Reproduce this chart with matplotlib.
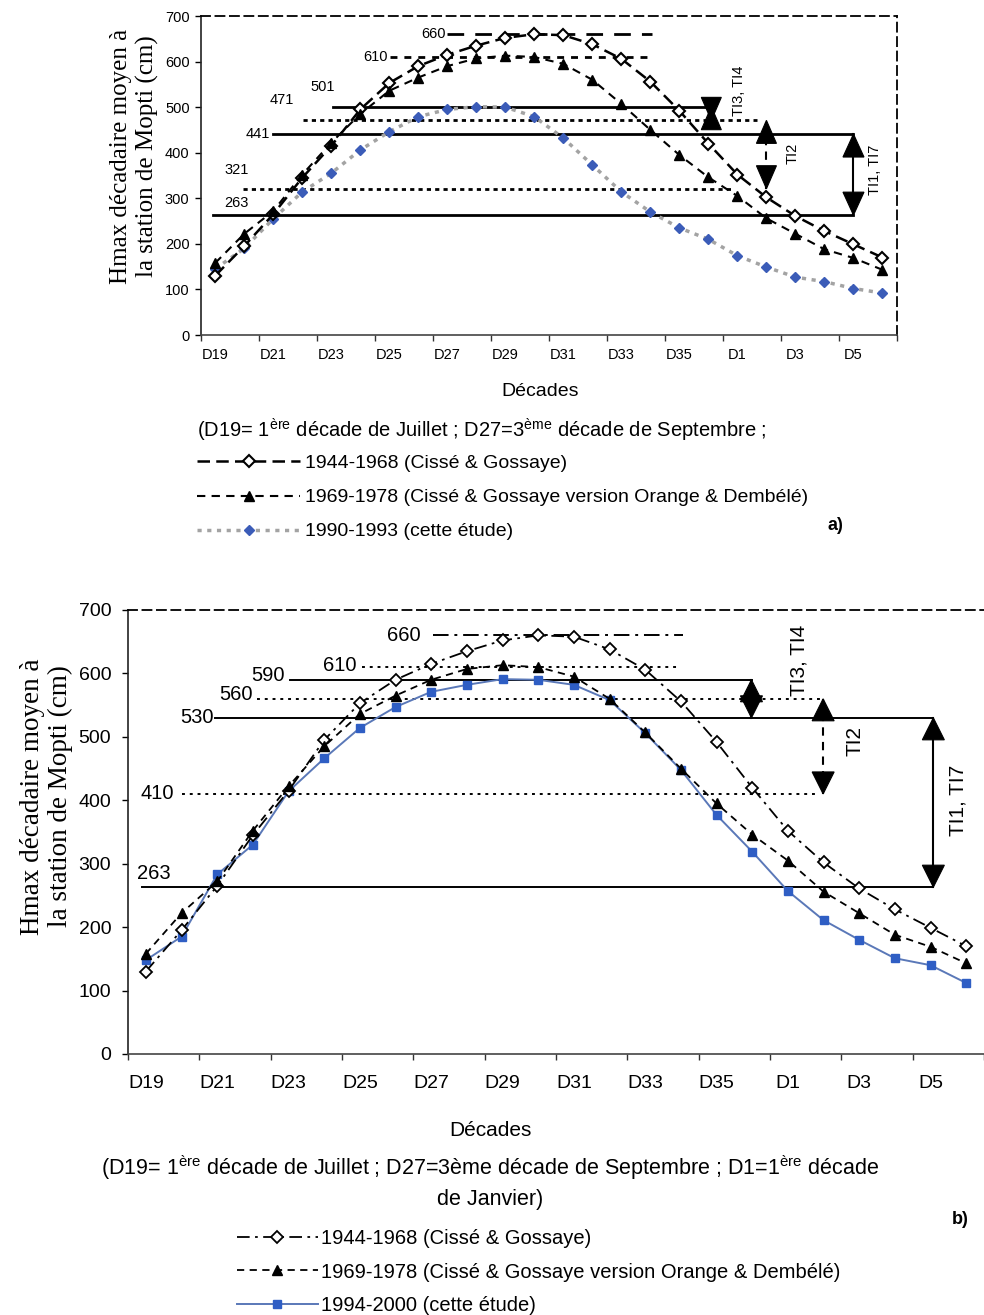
import numpy as np
import matplotlib
matplotlib.use("Agg")
import matplotlib.pyplot as plt
from matplotlib.patches import Polygon
from matplotlib.transforms import IdentityTransform

W, H, DPI = 984, 1315, 100

plt.rcParams["font.family"] = ["Liberation Sans", "DejaVu Sans"]
plt.rcParams["mathtext.fontset"] = "custom"
plt.rcParams["mathtext.rm"] = "Liberation Sans"
plt.rcParams["mathtext.it"] = "Liberation Sans"

SANS = ["Liberation Sans", "DejaVu Sans"]
SERIF = ["Liberation Serif", "DejaVu Serif"]

# ---- data -------------------------------------------------------------
decades = ["D19", "D20", "D21", "D22", "D23", "D24", "D25", "D26", "D27",
           "D28", "D29", "D30", "D31", "D32", "D33", "D34", "D35", "D36",
           "D1", "D2", "D3", "D4", "D5", "D6"]
tick_labels = decades[::2]

h_1944_1968 = [130, 195, 265, 345, 415, 495, 553, 590, 615, 635, 652, 660,
               658, 638, 606, 556, 492, 420, 352, 302, 261, 228, 199, 170]
h_1969_1978 = [158, 222, 272, 352, 422, 485, 536, 565, 590, 607, 613, 610,
               595, 560, 507, 450, 395, 346, 305, 256, 222, 188, 169, 143]
h_1990_1993 = [145, 190, 255, 314, 355, 406, 446, 479, 495, 501, 500, 479,
               432, 373, 314, 270, 235, 210, 174, 149, 127, 117, 102, 92]
h_1994_2000 = [148, 185, 283, 330, 414, 466, 514, 547, 571, 582, 591, 590,
               582, 558, 506, 448, 377, 319, 257, 211, 180, 151, 140, 112]

# threshold levels (cm) of each panel
levels_a = [660, 610, 501, 471, 441, 321, 263]
levels_b = [660, 610, 590, 560, 530, 410, 263]

label_1 = "1944-1968 (Cissé & Gossaye)"
label_2 = "1969-1978 (Cissé & Gossaye version Orange & Dembélé)"
label_3a = "1990-1993 (cette étude)"
label_3b = "1994-2000 (cette étude)"

# ---- layout helpers -----------------------------------------------------
def px_rect(x0, y0, x1, y1):
    return [x0 / W, 1 - y1 / H, (x1 - x0) / W, (y1 - y0) / H]

def fx(x):
    return x / W

def fy(y):
    return 1 - y / H

fig = plt.figure(figsize=(W / DPI, H / DPI), dpi=DPI)
fig.patch.set_facecolor("white")

ax_a = fig.add_axes(px_rect(200.7, 16, 897, 335))
ax_b = fig.add_axes(px_rect(128, 610, 984, 1054))

x = np.arange(len(decades))


def setup_axes(ax, tick_fs, xpad, ypad, right_border):
    ax.set_xlim(-0.5, len(decades) - 0.5)
    ax.set_ylim(0, 700)
    ax.set_yticks(np.arange(0, 701, 100))
    ax.set_xticks(x[::2])
    ax.set_xticklabels(tick_labels, family=SANS, fontsize=tick_fs)
    for t in ax.get_yticklabels():
        t.set_fontsize(tick_fs)
    ax.set_xticks(np.arange(-0.5, len(decades), 2), minor=True)
    ax.tick_params(axis="x", which="major", length=0, pad=xpad)
    ax.tick_params(axis="x", which="minor", length=4, direction="out",
                   width=1, color="#333333")
    ax.tick_params(axis="y", length=4, direction="out", width=1, pad=ypad)
    ax.spines["left"].set_color("#222222")
    ax.spines["left"].set_linewidth(1.2)
    ax.spines["bottom"].set_color("#444444")
    ax.spines["bottom"].set_linewidth(1.2)
    ax.spines["top"].set_linestyle((0, (5, 3)))
    ax.spines["top"].set_linewidth(1.3)
    if right_border:
        ax.spines["right"].set_linestyle((0, (5, 3)))
        ax.spines["right"].set_linewidth(1.3)
    else:
        ax.spines["right"].set_visible(False)
    ax.set_facecolor("white")


def arrow_head(ax, xpos, ytip, pointing_up, length, width):
    tx, ty = ax.transData.transform((xpos, ytip))
    s = 1 if pointing_up else -1
    verts = [(tx, ty), (tx - width / 2, ty - s * length),
             (tx + width / 2, ty - s * length)]
    ax.add_artist(Polygon(verts, closed=True, transform=IdentityTransform(),
                          facecolor="black", edgecolor="black", lw=0.8,
                          zorder=6, clip_on=False))


def double_arrow(ax, xpos, y_low, y_high, length, width, dashed=False,
                 lw=1.5):
    ax.plot([xpos, xpos], [y_low, y_high], color="black", lw=lw,
            ls=(0, (4, 3)) if dashed else "-", zorder=5)
    arrow_head(ax, xpos, y_high, True, length, width)
    arrow_head(ax, xpos, y_low, False, length, width)


# ---- panel a ------------------------------------------------------------
setup_axes(ax_a, 10.5, 9, 4, True)

l1a, = ax_a.plot(x, h_1944_1968, color="black", lw=1.8, ls=(0, (5, 2.5)),
                 marker="D", ms=6.5, mfc="white", mec="black", mew=1.5, zorder=4)
l2a, = ax_a.plot(x, h_1969_1978, color="black", lw=1.5, ls=(0, (4, 3)),
                 marker="^", ms=6.5, mfc="black", mec="black", zorder=4)
l3a, = ax_a.plot(x, h_1990_1993, color="#a3a3a3", lw=2.5, ls=(0, (1.2, 1.6)),
                 marker="D", ms=5.5, mfc="#3b5cb8", mec="#3b5cb8", zorder=3)

styles_a = [(0, (6, 4)), (0, (2.5, 2.5)), "-", (0, (1.5, 1.5)), "-",
            (0, (1.5, 1.5)), "-"]
extent_a = [(8.0, 15.07), (6.03, 15.07), (4.06, 17.06), (3.03, 18.68),
            (2.0, 22.0), (0.97, 17.86), (-0.07, 22.0)]
for lev, st, (x0, x1) in zip(levels_a, styles_a, extent_a):
    ax_a.plot([x0, x1], [lev, lev], color="black", lw=2.0, ls=st, zorder=2)

lab_a = [(7.93, 660, "right"), (5.96, 610, "right"), (3.72, 544, "center"),
         (2.3, 516, "center"), (1.9, 441, "right"), (0.75, 362, "center"),
         (0.72, 289, "center")]
for lev, (tx, ty, ha) in zip(levels_a, lab_a):
    ax_a.text(tx, ty, str(lev), ha=ha, va="center", fontsize=10.5)

fig.canvas.draw()
double_arrow(ax_a, 17.1, 471, 501, 23, 20)
double_arrow(ax_a, 19.0, 321, 471, 23, 20, dashed=True)
double_arrow(ax_a, 22.0, 263, 441, 23, 21)
ax_a.text(18.07, 535, "TI3, TI4", rotation=90, ha="center", va="center",
          fontsize=10.5)
ax_a.text(19.9, 399, "TI2", rotation=90, ha="center", va="center",
          fontsize=10.5)
ax_a.text(22.75, 362, "TI1, TI7", rotation=90, ha="center", va="center",
          fontsize=10.5)

ax_a.set_ylabel("Hmax décadaire moyen à\nla station de Mopti (cm)",
                family=SERIF, fontsize=18, linespacing=1.2)
ax_a.yaxis.set_label_coords(-0.095, 0.56)
ax_a.yaxis.label.set_va("center")

fig.text(fx(540), fy(392), "Décades", ha="center", va="center",
         fontsize=14)
fig.text(fx(197), fy(430),
         "(D19= 1$^{\\mathrm{ère}}$ décade de Juillet ; "
         "D27=3$^{\\mathrm{ème}}$ décade de Septembre ;",
         ha="left", va="center", fontsize=14.5)
fig.text(fx(835), fy(525), "a)", ha="center", va="center", fontsize=13,
         fontweight="bold")
fig.legend(handles=[l1a, l2a, l3a], labels=[label_1, label_2, label_3a],
           loc="center left", bbox_to_anchor=(fx(197), fy(497.5)),
           frameon=False, handlelength=5.3, handletextpad=0.25,
           labelspacing=0.85, borderpad=0, borderaxespad=0,
           prop={"family": SANS, "size": 14})

# ---- panel b ------------------------------------------------------------
setup_axes(ax_b, 14, 15, 8, False)

l1b, = ax_b.plot(x, h_1944_1968, color="black", lw=1.3, ls=(0, (7, 3, 1.5, 3)),
                 marker="D", ms=6.5, mfc="white", mec="black", mew=1.3, zorder=4)
l2b, = ax_b.plot(x, h_1969_1978, color="black", lw=1.3, ls=(0, (4, 3)),
                 marker="^", ms=6.5, mfc="black", mec="black", zorder=4)
l3b, = ax_b.plot(x, h_1994_2000, color="#5a78b8", lw=1.4, ls="-",
                 marker="s", ms=5.5, mfc="#2f5ec4", mec="#2f5ec4", zorder=3)

styles_b = [(0, (8, 3, 1.5, 3)), (0, (1.5, 2.5)), "-", (0, (1.5, 2.5)), "-",
            (0, (1.5, 2.5)), "-"]
extent_b = [(8.05, 15.06), (6.06, 14.89), (4.04, 16.99), (3.12, 18.9),
            (1.94, 22.07), (1.01, 18.84), (-0.1, 22.07)]
for lev, st, (x0, x1) in zip(levels_b, styles_b, extent_b):
    ax_b.plot([x0, x1], [lev, lev], color="black", lw=1.4, ls=st, zorder=2)

lab_b = [(7.7, 660, "right"), (5.9, 612, "right"), (3.9, 597, "right"),
         (3.0, 567, "right"), (1.9, 531, "right"), (0.8, 410, "right"),
         (0.21, 284, "center")]
for lev, (tx, ty, ha) in zip(levels_b, lab_b):
    ax_b.text(tx, ty, str(lev), ha=ha, va="center", fontsize=14.5)

fig.canvas.draw()
double_arrow(ax_b, 16.98, 530, 590, 22, 22)
double_arrow(ax_b, 18.99, 410, 560, 22, 22, dashed=True)
double_arrow(ax_b, 22.08, 263, 530, 22, 22)
ax_b.text(18.3, 620, "TI3, TI4", rotation=90, ha="center", va="center",
          fontsize=15)
ax_b.text(19.88, 493, "TI2", rotation=90, ha="center", va="center",
          fontsize=15)
ax_b.text(22.77, 400, "TI1, TI7", rotation=90, ha="center", va="center",
          fontsize=15)

ax_b.set_ylabel("Hmax décadaire moyen à\nla station de Mopti (cm)",
                family=SERIF, fontsize=19.5, linespacing=1.15)
ax_b.yaxis.set_label_coords(-0.095, 0.58)
ax_b.yaxis.label.set_va("center")

fig.text(fx(490), fy(1131), "Décades", ha="center", va="center",
         fontsize=15)
fig.text(fx(490), fy(1168),
         "(D19= 1$^{\\mathrm{ère}}$ décade de Juillet ; D27=3ème décade de "
         "Septembre ; D1=1$^{\\mathrm{ère}}$ décade",
         ha="center", va="center", fontsize=15.5)
fig.text(fx(490), fy(1200), "de Janvier)", ha="center", va="center",
         fontsize=15.5)
fig.text(fx(960), fy(1220), "b)", ha="center", va="center", fontsize=13,
         fontweight="bold")
fig.legend(handles=[l1b, l2b, l3b], labels=[label_1, label_2, label_3b],
           loc="center left", bbox_to_anchor=(fx(237), fy(1272)),
           frameon=False, handlelength=4.0, handletextpad=0.15,
           labelspacing=0.72, borderpad=0, borderaxespad=0,
           prop={"family": SANS, "size": 14.5})

fig.savefig("out.png", dpi=DPI, facecolor="white")
